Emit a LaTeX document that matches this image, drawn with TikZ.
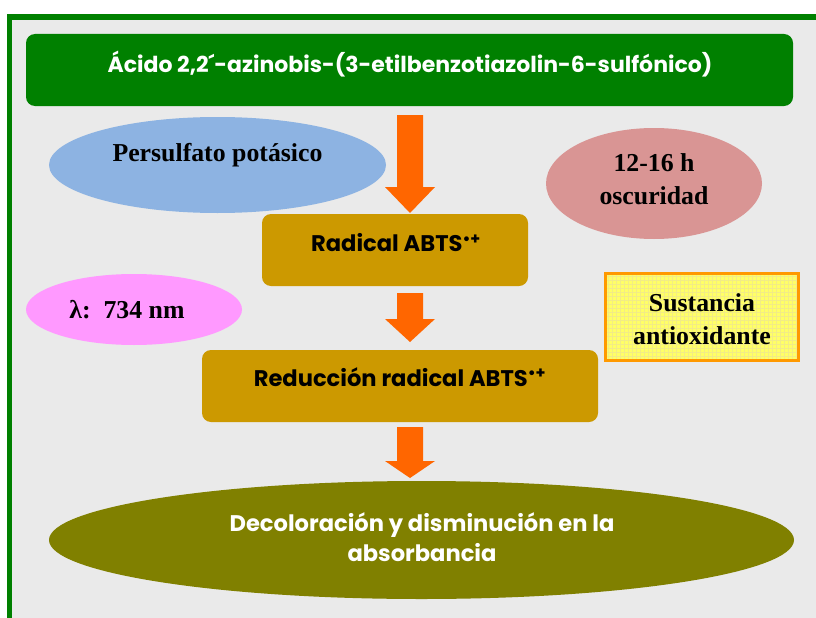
\documentclass[tikz,border=0pt]{standalone}
\usepackage{fontspec}
\setmainfont{Liberation Serif}
\setsansfont{Poppins}
\usetikzlibrary{calc,shapes.geometric}
\definecolor{frameg}{HTML}{008000}
\definecolor{bgc}{HTML}{EAEAEA}
\definecolor{arrowc}{HTML}{FF6600}
\definecolor{goldc}{HTML}{CC9900}
\definecolor{olivec}{HTML}{808000}
\definecolor{blueel}{HTML}{8DB3E2}
\definecolor{roseel}{HTML}{D99594}
\definecolor{pinkel}{HTML}{FF99FF}
\definecolor{yelc}{HTML}{FFFF66}
\definecolor{yelgrid}{HTML}{F2EC86}
\definecolor{orbord}{HTML}{FF9900}
\newcommand\blockarrow[3]{%
  \fill[arrowc] let \p1=(#1), \p2=(#2) in
   (\x1-13pt,\y1) -- (\x1+13pt,\y1) -- (\x1+13pt,\y2+#3) -- (\x1+25pt,\y2+#3)
   -- (\x2,\y2) -- (\x1-25pt,\y2+#3) -- (\x1-13pt,\y2+#3) -- cycle;}
\begin{document}
\begin{tikzpicture}[x=1pt,y=-1pt,
  stepbox/.style={fill=goldc, rounded corners=9pt, inner sep=0pt, minimum height=72pt},
  ovalbox/.style={ellipse, inner sep=0pt},
  sanstxt/.style={font=\sffamily\bfseries\fontsize{22.6}{30}\selectfont, inner sep=0pt, align=center},
  seriftxt/.style={font=\rmfamily\bfseries\fontsize{25.8}{32.5}\selectfont, inner sep=0pt, align=center, text=black}]
\useasboundingbox (0,0) rectangle (816,618);
\fill[white] (0,0) rectangle (816,618);
\fill[frameg] (7,14) rectangle (816,618);
\fill[bgc] (12,20) rectangle (816,618);
% title
\node[stepbox, fill=frameg, minimum width=767pt] (title) at (409.5,70) {};
\node[sanstxt, text=white, font=\sffamily\bfseries\fontsize{22}{30}\selectfont] (titlet) at (410,64) {Ácido 2,2´-azinobis-(3-etilbenzotiazolin-6-sulfónico)};
% side ellipses
\node[ovalbox, fill=blueel, minimum width=337pt, minimum height=96pt] (pers) at (217.5,165) {};
\node[seriftxt] (perst) at (217.5,155) {Persulfato potásico};
\node[ovalbox, fill=roseel, minimum width=216pt, minimum height=111pt] (osc) at (654,183.5) {};
\node[seriftxt] (osct) at (654,179) {12-16 h\\oscuridad};
\node[ovalbox, fill=pinkel, minimum width=216pt, minimum height=71pt] (lam) at (134,309.5) {};
\node[seriftxt] (lamt) at (127,310) {λ:~~734 nm};
% sustancia box
\node[fill=yelc, minimum width=193pt, minimum height=87pt, inner sep=0pt] (sust) at (702,317) {};
\begin{scope}
\clip (sust.north west) rectangle (sust.south east);
\draw[yelgrid, line width=0.6pt, step=4pt] (600,268) grid (805,366);
\end{scope}
\draw[orbord, line width=3pt] (sust.north west) rectangle (sust.south east);
\node[seriftxt] (sustt) at (702,319) {Sustancia\\antioxidante};
% main chain
\node[stepbox, minimum width=266pt] (rad) at (395,250) {};
\node[sanstxt, text=black] (radt) at (396,243) {Radical ABTS\textsuperscript{•+}};
\node[stepbox, minimum width=396pt] (red) at (400,386) {};
\node[sanstxt, text=black] (redt) at (400,377) {Reducción radical ABTS\textsuperscript{•+}};
\node[ovalbox, fill=olivec, minimum width=745pt, minimum height=118pt] (fin) at (421.5,540) {};
\node[sanstxt, text=white] (fint) at (422,537) {Decoloración y disminución en la\\absorbancia};
% arrows
\coordinate (a1s) at (410,115); \coordinate (a1t) at (410,213);
\coordinate (a2s) at (410,293); \coordinate (a2t) at (410,342);
\coordinate (a3s) at (410,427); \coordinate (a3t) at (410,478);
\blockarrow{a1s}{a1t}{26pt}
\blockarrow{a2s}{a2t}{23pt}
\blockarrow{a3s}{a3t}{17pt}
\end{tikzpicture}
\end{document}
